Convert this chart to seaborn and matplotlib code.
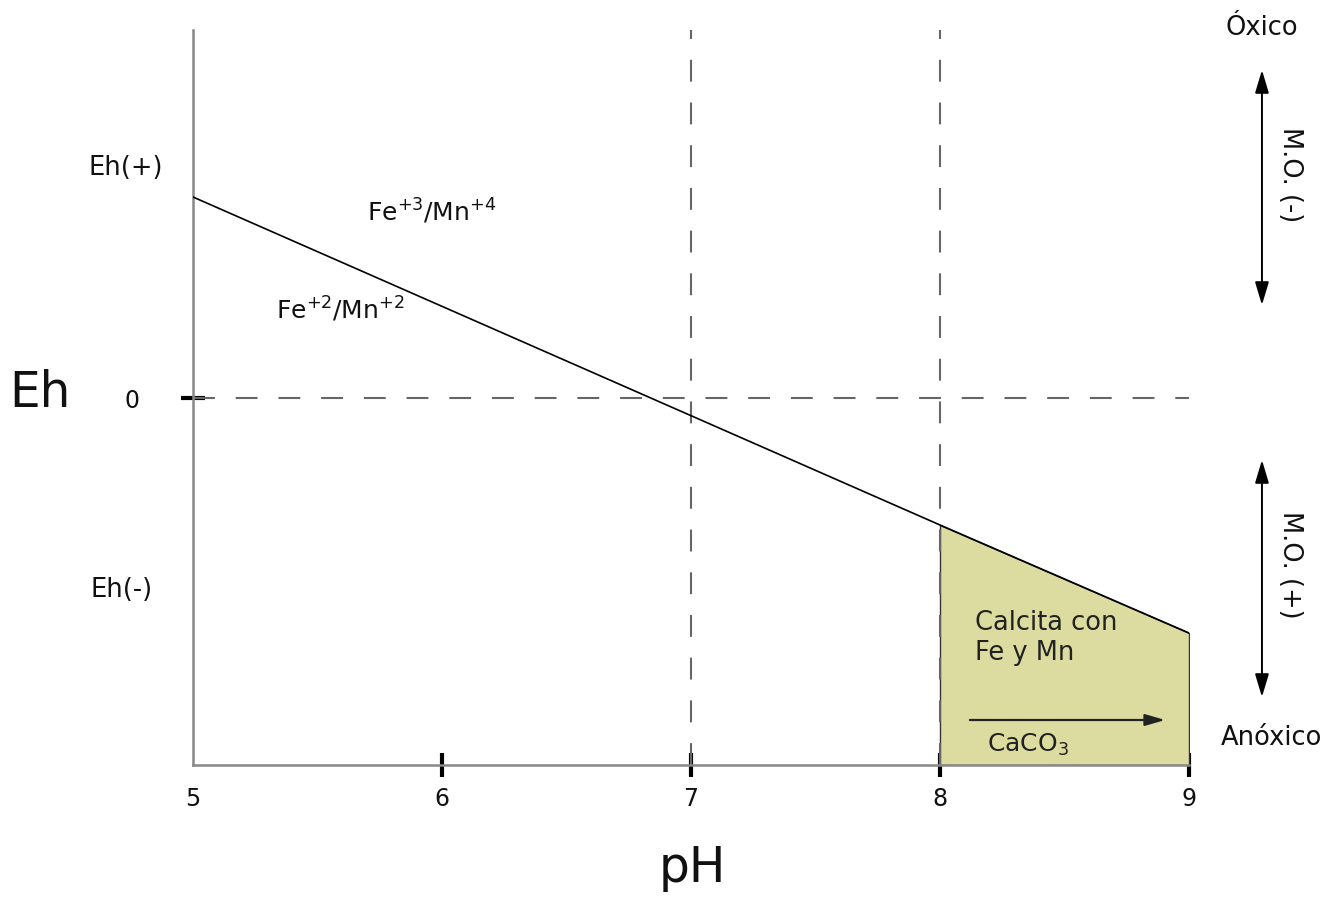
import matplotlib
matplotlib.use("Agg")
import matplotlib.pyplot as plt
import seaborn as sns
import pandas as pd

# ---- data ----
ph_points = [5.0, 8.0, 9.0]
eh_points = [2.01, -1.27, -2.35]
ph_ticks = [5, 6, 7, 8, 9]
ph_tick_labels = ["5", "6", "7", "8", "9"]
ph_dashed = [7, 8]
calcite_ph = [8.0, 9.0]
calcite_eh = [-1.27, -2.35]

EH_MIN, EH_MAX = -3.67, 3.68

sns.set_style("white")
plt.rcParams["font.family"] = ["DejaVu Sans"]
plt.rcParams["text.color"] = "#111111"
plt.rcParams["xtick.color"] = "black"
plt.rcParams["ytick.color"] = "black"

fig = plt.figure(figsize=(13.41, 8.97), dpi=100)
ax = fig.add_axes([193 / 1341, 1 - 765 / 897, (1189 - 193) / 1341, (765 - 30) / 897])
ax.set_xlim(5, 9)
ax.set_ylim(EH_MIN, EH_MAX)

# shaded calcite region
ax.fill_between(calcite_ph, calcite_eh, EH_MIN, color="#dcdca0",
                edgecolor="#333333", linewidth=1.0, zorder=1)

# dashed reference lines
dash = (0, (10.5, 10))
for xv in ph_dashed:
    ax.axvline(xv, color="#666666", lw=1.5, linestyle=dash, zorder=2)
ax.axhline(0, color="#666666", lw=1.5, linestyle=dash, zorder=2)

# main Eh-pH line
df = pd.DataFrame({"pH": ph_points, "Eh": eh_points})
sns.lineplot(data=df, x="pH", y="Eh", color="black", lw=1.2, ax=ax, zorder=3)

# spines
for s in ["top", "right"]:
    ax.spines[s].set_visible(False)
for s in ["left", "bottom"]:
    ax.spines[s].set_color("#888888")
    ax.spines[s].set_linewidth(1.8)

ax.set_xticks(ph_ticks)
ax.set_xticklabels(ph_tick_labels)
ax.tick_params(axis="x", bottom=True, direction="inout", length=17, width=3,
               color="black", labelcolor="#111111", labelsize=17, pad=7)
ax.xaxis.get_major_ticks()[0].tick1line.set_visible(False)
ax.set_yticks([0])
ax.set_yticklabels(["0"])
ax.tick_params(axis="y", left=True, direction="inout", length=17, width=3,
               color="black", labelcolor="#111111", labelsize=17, pad=30)
ax.set_xlabel("")
ax.set_ylabel("")

kw = dict(clip_on=False, ha="center", va="center")
ax.text(4.386, 0.05, "Eh", fontsize=35, **kw)
ax.text(7.004, -4.70, "pH", fontsize=35, **kw)
ax.text(4.731, 2.30, "Eh(+)", fontsize=18.5, **kw)
ax.text(4.715, -1.92, "Eh(-)", fontsize=18.5, **kw)
ax.text(5.960, 1.86, r"Fe$^{+3}$/Mn$^{+4}$", fontsize=18, **kw)
ax.text(5.590, 0.88, r"Fe$^{+2}$/Mn$^{+2}$", fontsize=18, **kw)
ax.text(8.141, -2.40, "Calcita con\nFe y Mn", fontsize=18.5, ha="left", va="center",
        linespacing=1.2, color="#222222")
ax.text(8.353, -3.47, r"CaCO$_3$", fontsize=18, ha="center", va="center", color="#222222")
ax.annotate("", xy=(8.904, -3.22), xytext=(8.120, -3.22),
            arrowprops=dict(arrowstyle="-|>,head_length=1.2,head_width=0.35",
                            color="#222222", lw=1.6, shrinkA=0, shrinkB=0))

ax.text(9.293, 3.70, "Óxico", fontsize=18.5, **kw)
ax.text(9.333, -3.40, "Anóxico", fontsize=18.5, **kw)
for y0, y1 in [(3.28, 0.93), (-0.62, -2.99)]:
    ax.annotate("", xy=(9.293, y1), xytext=(9.293, y0), annotation_clip=False,
                arrowprops=dict(arrowstyle="<|-|>,head_length=1.4,head_width=0.42",
                                color="black", lw=1.4, shrinkA=0, shrinkB=0))
ax.text(9.406, 2.23, "M.O. (-)", fontsize=18.5, rotation=-90, **kw)
ax.text(9.406, -1.67, "M.O. (+)", fontsize=18.5, rotation=-90, **kw)

fig.savefig("out.png", dpi=100)
